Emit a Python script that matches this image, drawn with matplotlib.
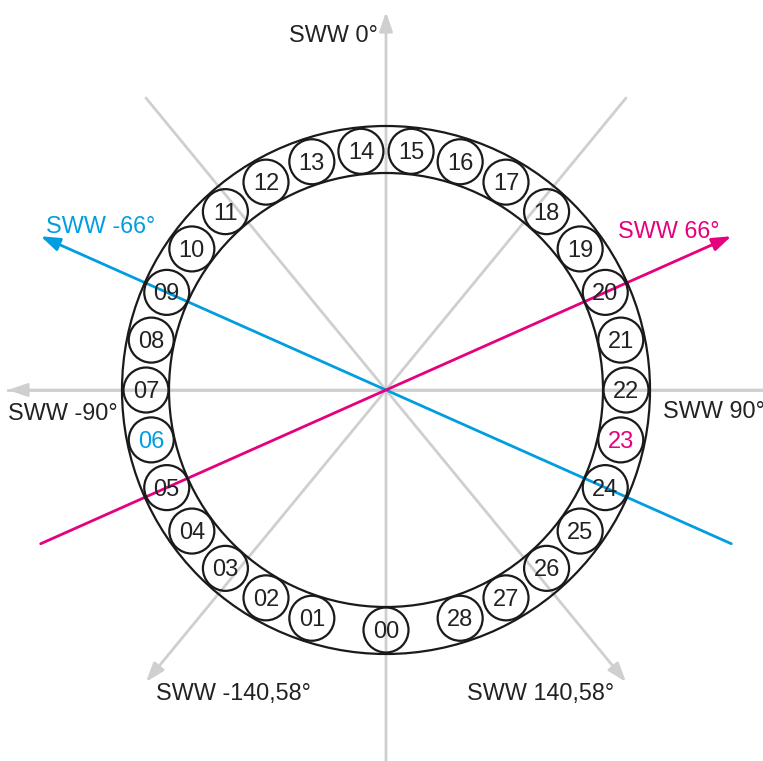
import numpy as np
from matplotlib import pyplot as plt
from matplotlib.patches import Circle

plt.rcParams['font.family'] = ['Liberation Sans', 'DejaVu Sans']

# ======================
# data
# ======================
# small circles: label + bearing (deg, 0 = up, clockwise)
seat_labels = ["00", "01", "02", "03", "04", "05", "06", "07", "08", "09",
               "10", "11", "12", "13", "14", "15", "16", "17", "18", "19",
               "20", "21", "22", "23", "24", "25", "26", "27", "28"]
seat_bearings = [180, 198, 210, 222, 234, 246, 258, 270, 282, 294,
                 306, 318, 330, 342, 354, 6, 18, 30, 42, 54,
                 66, 78, 90, 102, 114, 126, 138, 150, 162]
seat_colors = {"06": "#009ee0", "23": "#e5007d"}

# gray reference directions
ref_bearings = [0, -90, 90, 140.58, -140.58]
ref_labels = ["SWW 0°", "SWW -90°", "SWW 90°", "SWW 140,58°", "SWW -140,58°"]
ref_arrow = [True, True, False, True, True]

# coloured directions
dir_bearings = [-66, 66]
dir_labels = ["SWW -66°", "SWW 66°"]
dir_colors = ["#009ee0", "#e5007d"]

# ======================
# figure in pixel coords
# ======================
W, H = 763, 761
fig = plt.figure(figsize=(W / 100, H / 100), dpi=100)
ax = fig.add_axes([0, 0, 1, 1])
ax.set_xlim(0, W)
ax.set_ylim(H, 0)
ax.axis("off")

cx, cy = 386, 390
L = 378
r_out, r_in, r_seat, r_small = 264, 217, 240, 22.5
gray = "#cfcfcf"


def point(bearing, r):
    a = np.radians(bearing)
    return cx + r * np.sin(a), cy - r * np.cos(a)


def arrow(tip, tail, color, lw=2):
    ax.annotate("", xy=tip, xytext=tail,
                arrowprops=dict(arrowstyle="-|>,head_length=1.15,head_width=0.4",
                                color=color, lw=lw, shrinkA=0, shrinkB=0),
                zorder=1)


# gray lines
for b, has_arrow in zip(ref_bearings, ref_arrow):
    tip = point(b, L)
    tail = point(b + 180, L if b != 0 else L + 10)
    if has_arrow:
        arrow(tip, tail, gray)
    else:
        tip = point(b, L + 10)
        ax.plot([tail[0], tip[0]], [tail[1], tip[1]], color=gray, lw=2, zorder=1)

# ring
ax.add_patch(Circle((cx, cy), r_out, fill=False, ec="#1a1a1a", lw=1.6, zorder=2))
ax.add_patch(Circle((cx, cy), r_in, fill=False, ec="#1a1a1a", lw=1.6, zorder=2))

# seats
for lab, b in zip(seat_labels, seat_bearings):
    x, y = point(b, r_seat)
    ax.add_patch(Circle((x, y), r_small, fill=False, ec="#1a1a1a", lw=1.6, zorder=2))
    ax.text(x, y + 8, lab, ha="center", va="baseline", fontsize=17,
            color=seat_colors.get(lab, "#222222"), zorder=4)

# coloured lines
for b, c in zip(dir_bearings, dir_colors):
    arrow(point(b, L), point(b + 180, L), c)

# labels
fs = 16.8
ax.text(378, 42, ref_labels[0], ha="right", va="baseline", fontsize=fs, color="#222222")
ax.text(8, 420, ref_labels[1], ha="left", va="baseline", fontsize=fs, color="#222222")
ax.text(663, 418, ref_labels[2], ha="left", va="baseline", fontsize=fs, color="#222222")
ax.text(467, 700, ref_labels[3], ha="left", va="baseline", fontsize=fs, color="#222222")
ax.text(156, 700, ref_labels[4], ha="left", va="baseline", fontsize=fs, color="#222222")
ax.text(46, 233, dir_labels[0], ha="left", va="baseline", fontsize=fs, color=dir_colors[0])
ax.text(618, 238, dir_labels[1], ha="left", va="baseline", fontsize=fs, color=dir_colors[1])

fig.savefig("out.png", dpi=100, facecolor="white")
